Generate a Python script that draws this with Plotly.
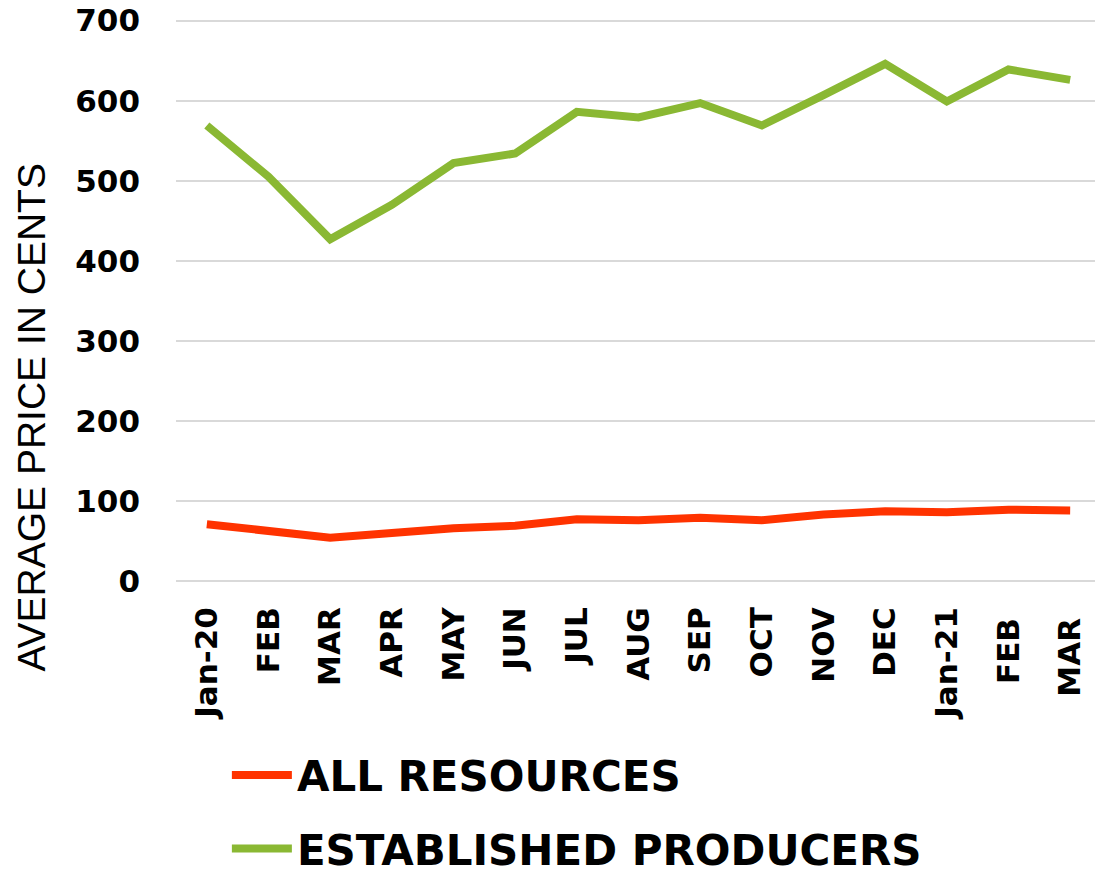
import plotly.graph_objects as go

# month labels along the x axis
months = ["Jan-20", "FEB", "MAR", "APR", "MAY", "JUN", "JUL", "AUG", "SEP",
          "OCT", "NOV", "DEC", "Jan-21", "FEB ", "MAR "]

# average price in cents
all_resources = [71, 62, 54, 60, 66, 69, 77, 76, 79, 76, 83, 87, 86, 89, 88]
established_producers = [569, 505, 427, 470, 522, 534, 586, 579, 597, 569,
                         607, 646, 599, 639, 626]

y_ticks = [0, 100, 200, 300, 400, 500, 600, 700]

RED = "#FF3300"
GREEN = "#8AB833"
GRID = "#D9D9D9"
HEAVY = "DejaVu Sans"

fig = go.Figure()

fig.add_trace(go.Scatter(x=months, y=all_resources, mode="lines",
                         name="ALL RESOURCES", legendgroup="a",
                         line=dict(color=RED, width=8)))
fig.add_trace(go.Scatter(x=months, y=established_producers, mode="lines",
                         name="ESTABLISHED PRODUCERS", legendgroup="b",
                         line=dict(color=GREEN, width=8)))

# the page body adds an 8px margin, so the figure is 8px smaller each way
fig.update_layout(
    width=1095, height=863,
    margin=dict(l=168, r=2, t=11, b=290, autoexpand=False),
    plot_bgcolor="white", paper_bgcolor="white",
    showlegend=True,
    legend=dict(
        x=0.055, y=-0.285, xanchor="left", yanchor="top",
        orientation="v", tracegroupgap=16, itemwidth=60,
        font=dict(family=HEAVY, size=42, color="black", weight="bold"),
        bgcolor="rgba(0,0,0,0)",
    ),
)

# y axis title placed as an annotation so it can sit lower, like the original
fig.add_annotation(
    text="AVERAGE PRICE IN CENTS", textangle=-90,
    xref="paper", yref="paper", x=-0.156, y=0.292,
    xanchor="center", yanchor="middle", showarrow=False,
    font=dict(family="Liberation Sans", size=39, color="black"),
)

fig.update_xaxes(
    type="category",
    range=[-0.5, len(months) - 0.5],
    tickangle=-90,
    ticklabelstandoff=19,
    automargin=False,
    tickfont=dict(family=HEAVY, size=31, color="black", weight="bold"),
    showgrid=False, showline=False, zeroline=False,
)

fig.update_yaxes(
    range=[0, 702],
    tickvals=y_ticks,
    ticklabelstandoff=35,
    ticklabeloverflow="allow",
    automargin=False,
    tickfont=dict(family=HEAVY, size=31, color="black", weight="bold"),
    showgrid=True, gridcolor=GRID, gridwidth=1.5,
    zeroline=True, zerolinecolor=GRID, zerolinewidth=1.5,
    showline=False,
)

fig.write_html("out.html")
